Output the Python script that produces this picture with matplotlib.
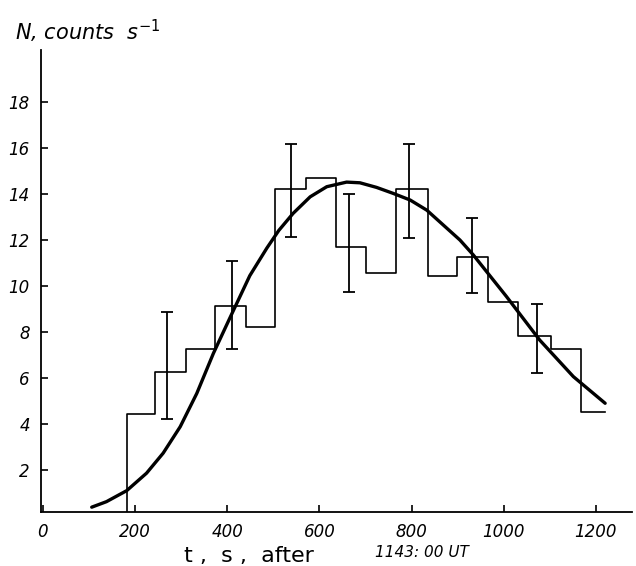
import matplotlib
matplotlib.use('Agg')
import matplotlib.pyplot as plt

# histogram of count rate (bin edges in s, rate in counts/s)
bin_edges = [182, 243, 311, 373, 441, 504, 571, 636, 702, 766, 836, 899, 966, 1031, 1102, 1167, 1220]
bin_rates = [4.43, 6.25, 7.25, 9.14, 8.23, 14.22, 14.72, 11.71, 10.55, 14.22, 10.43, 11.27, 9.32, 7.83, 7.25, 4.54]

# error bars
err_t = [270, 410, 538, 665, 794, 932, 1072]
err_lo = [4.20, 7.27, 12.12, 9.72, 12.10, 9.71, 6.23]
err_hi = [8.86, 11.10, 16.17, 14.00, 16.17, 12.97, 9.23]

# smooth curve
curve_t = [106, 138, 182, 225, 261, 298, 334, 370, 406, 449, 486, 512, 543, 580, 616,
           659, 688, 724, 760, 797, 833, 869, 905, 934, 1006, 1078, 1151, 1220]
curve_n = [0.38, 0.62, 1.10, 1.86, 2.73, 3.88, 5.33, 7.07, 8.62, 10.45, 11.65, 12.42, 13.16, 13.88, 14.32,
           14.52, 14.49, 14.29, 14.03, 13.74, 13.30, 12.65, 12.00, 11.35, 9.54, 7.65, 6.06, 4.90]

xticks = [0, 200, 400, 600, 800, 1000, 1200]
yticks = [2, 4, 6, 8, 10, 12, 14, 16, 18]

fig = plt.figure(figsize=(6.36, 5.66), dpi=100)
ax = fig.add_axes([0.0645, 0.0954, 0.929, 0.816])

step_x = [bin_edges[0]] + bin_edges
step_y = [0] + bin_rates + [bin_rates[-1]]
ax.step(step_x, step_y, where='post', color='black', lw=1.2)

ax.plot(curve_t, curve_n, color='black', lw=2.4, solid_joinstyle='round', solid_capstyle='round')

mid = [(lo + hi) / 2 for lo, hi in zip(err_lo, err_hi)]
half = [(hi - lo) / 2 for lo, hi in zip(err_lo, err_hi)]
ax.errorbar(err_t, mid, yerr=half, fmt='none', ecolor='black', elinewidth=1.3, capsize=4, capthick=1.3)

ax.set_xlim(-4, 1278)
ax.set_ylim(0.17, 20.26)
ax.set_xticks(xticks)
ax.set_yticks(yticks)

for s in ['top', 'right']:
    ax.spines[s].set_visible(False)
for s in ['left', 'bottom']:
    ax.spines[s].set_linewidth(1.3)

tick_font = dict(family='DejaVu Sans', style='italic', size=12)
ax.tick_params(direction='in', length=5, width=1.2, pad=8)
ax.set_xticklabels([str(v) for v in xticks], **tick_font)
ax.set_yticklabels([str(v) for v in yticks], **tick_font)

fig.text(0.024, 0.945, r'N, counts  s$^{-1}$', fontsize=15, style='italic', ha='left', va='center')
fig.text(0.29, 0.018, 't ,  s ,  after', fontsize=16, ha='left', va='center')
fig.text(0.59, 0.024, '1143: 00 UT', fontsize=11, style='italic', ha='left', va='center')

fig.savefig('out.png', dpi=100)
